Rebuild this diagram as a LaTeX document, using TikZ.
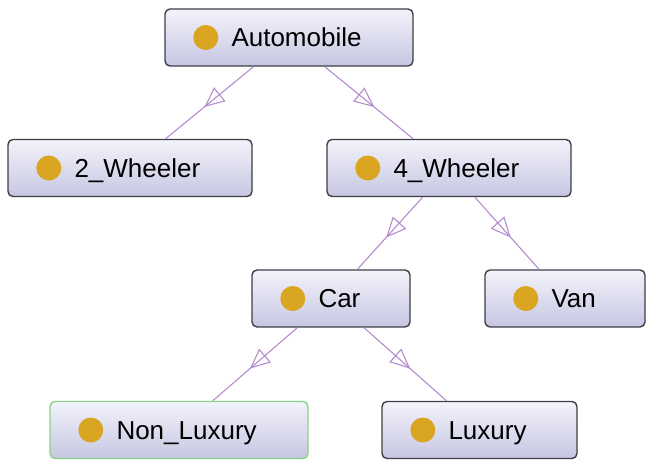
\documentclass[tikz,border=0pt]{standalone}
\usepackage{fontspec}
\setmainfont{Liberation Sans}
\usepackage{xcolor}
\definecolor{boxtop}{HTML}{F3F3FB}
\definecolor{boxbot}{HTML}{C6C6E2}
\definecolor{rim}{HTML}{3E3E46}
\definecolor{sel}{HTML}{86D486}
\definecolor{gold}{HTML}{DAA520}
\definecolor{isac}{HTML}{B48CCE}
\usetikzlibrary{arrows.meta,calc,decorations.markings}
\tikzset{
  cls/.style={rectangle,rounded corners=5pt,line width=1.4pt,minimum height=57pt,
    inner sep=0pt,top color=boxtop,bottom color=boxbot},
  dot/.style={circle,fill=gold,minimum size=25pt,inner sep=0pt},
  txt/.style={anchor=west,inner sep=0pt,text height=18.6pt,text depth=0pt,
    font=\fontsize{26}{30}\selectfont},
  isa/.style={draw=isac,line width=1.1pt,postaction={decorate},
    decoration={markings,mark=at position 0.56 with
      {\arrow{Triangle[open,length=20pt,width=18pt,line width=1.1pt]}}}},
}
\begin{document}
\begin{tikzpicture}[x=1pt,y=-1pt]
\useasboundingbox (0,0) rectangle (646,459);
% class boxes: name / centre / width / rim colour / label
\foreach \n/\cx/\cy/\w/\bc/\t in {auto/289/37.5/248/rim/Automobile,
    two/130/168/244/rim/2\_Wheeler, four/449/168/244/rim/4\_Wheeler,
    car/331/298.5/158/rim/Car, van/565/298.5/160/rim/Van,
    nonlux/179/430/258/sel/Non\_Luxury, lux/479.5/430/195/rim/Luxury}
{
  \node[cls,draw=\bc,minimum width=\w] (\n) at (\cx,\cy) {};
  \node[dot] (\n-dot) at ($(\n.west)+(41.5,0)$) {};
  \node[txt] (\n-txt) at ($(\n.west)+(67,0)$) {\t};
}
% subclass links
\foreach \a/\b in {auto/two,auto/four,four/car,four/van,car/nonlux,car/lux}
  \draw[isa] (\a) -- (\b);
\end{tikzpicture}
\end{document}
